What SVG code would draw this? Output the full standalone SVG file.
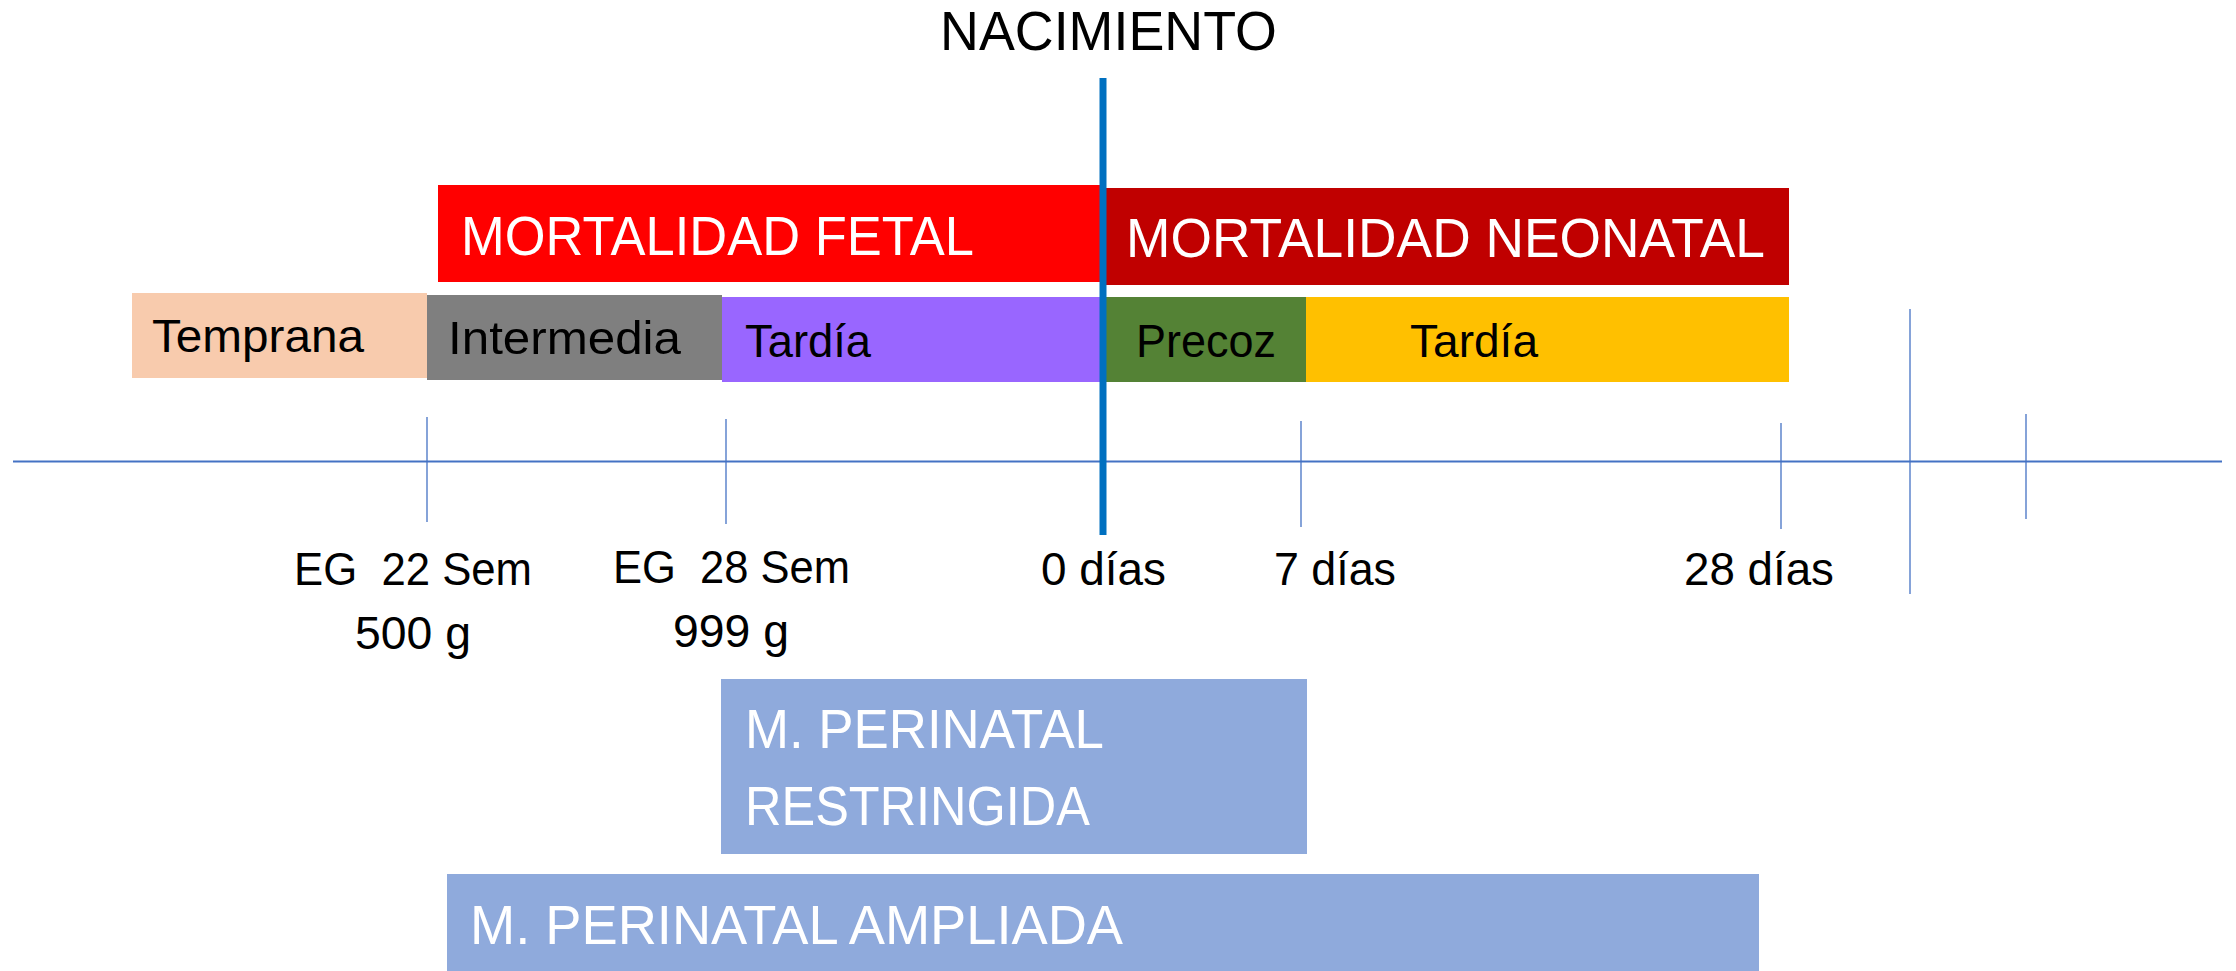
<svg xmlns="http://www.w3.org/2000/svg" width="2236" height="971" viewBox="0 0 2236 971">
<style>
text{font-family:"Liberation Sans",Arial,sans-serif}
.big{font-size:56px;fill:#fff}
.mid{font-size:47px;fill:#000}
.lbl{font-size:47px;fill:#000}
.tick{stroke:#4472C4;stroke-width:1.3}
</style>
<rect width="2236" height="971" fill="#fff"/>
<g id="connectors">
<line x1="13" y1="461.5" x2="2222" y2="461.5" stroke="#4472C4" stroke-width="2"/>
<line class="tick" x1="427" y1="417" x2="427" y2="522"/>
<line class="tick" x1="726" y1="419" x2="726" y2="524"/>
<line class="tick" x1="1301" y1="421" x2="1301" y2="527"/>
<line class="tick" x1="1781" y1="423" x2="1781" y2="529"/>
<line class="tick" x1="1910" y1="309" x2="1910" y2="594"/>
<line class="tick" x1="2026" y1="414" x2="2026" y2="519"/>
</g>
<g id="fetal"><rect x="438" y="185" width="665" height="97" fill="#FF0000"/><text class="big" x="461" y="255" textLength="513" lengthAdjust="spacingAndGlyphs">MORTALIDAD FETAL</text></g>
<g id="neonatal"><rect x="1103" y="188" width="686" height="97" fill="#C00000"/><text class="big" x="1126" y="257" textLength="639" lengthAdjust="spacingAndGlyphs">MORTALIDAD NEONATAL</text></g>
<g id="temprana"><rect x="132" y="293" width="295" height="85" fill="#F8CBAD"/><text class="mid" x="152" y="352" textLength="212" lengthAdjust="spacingAndGlyphs">Temprana</text></g>
<g id="intermedia"><rect x="427" y="295" width="295" height="85" fill="#7F7F7F"/><text class="mid" x="448" y="354" textLength="233" lengthAdjust="spacingAndGlyphs">Intermedia</text></g>
<g id="tardia-fetal"><rect x="722" y="297" width="381" height="85" fill="#9966FF"/><text class="mid" x="745" y="357" textLength="126" lengthAdjust="spacingAndGlyphs">Tardía</text></g>
<g id="precoz"><rect x="1103" y="297" width="203" height="85" fill="#548235"/><text class="mid" x="1136" y="357" textLength="140" lengthAdjust="spacingAndGlyphs">Precoz</text></g>
<g id="tardia-neonatal"><rect x="1306" y="297" width="483" height="85" fill="#FFC000"/><text class="mid" x="1410" y="357" textLength="128" lengthAdjust="spacingAndGlyphs">Tardía</text></g>
<g id="nacimiento"><line x1="1103" y1="78" x2="1103" y2="535" stroke="#0070C0" stroke-width="7"/><text x="940" y="50" font-size="56" fill="#000" textLength="337" lengthAdjust="spacingAndGlyphs">NACIMIENTO</text></g>
<g id="labels">
<text class="lbl" x="294" y="585" textLength="238" lengthAdjust="spacingAndGlyphs" xml:space="preserve">EG  22 Sem</text>
<text class="lbl" x="355" y="649" textLength="116" lengthAdjust="spacingAndGlyphs">500 g</text>
<text class="lbl" x="613" y="583" textLength="237" lengthAdjust="spacingAndGlyphs" xml:space="preserve">EG  28 Sem</text>
<text class="lbl" x="673" y="647" textLength="116" lengthAdjust="spacingAndGlyphs">999 g</text>
<text class="lbl" x="1041" y="585" textLength="125" lengthAdjust="spacingAndGlyphs">0 días</text>
<text class="lbl" x="1274" y="585" textLength="122" lengthAdjust="spacingAndGlyphs">7 días</text>
<text class="lbl" x="1684" y="585" textLength="150" lengthAdjust="spacingAndGlyphs">28 días</text>
</g>
<g id="restringida"><rect x="721" y="679" width="586" height="175" fill="#8FAADC"/><text class="big" x="745" y="748" textLength="359" lengthAdjust="spacingAndGlyphs">M. PERINATAL</text><text class="big" x="745" y="825" textLength="345" lengthAdjust="spacingAndGlyphs">RESTRINGIDA</text></g>
<g id="ampliada"><rect x="447" y="874" width="1312" height="97" fill="#8FAADC"/><text class="big" x="470" y="944" textLength="653" lengthAdjust="spacingAndGlyphs">M. PERINATAL AMPLIADA</text></g>
</svg>
